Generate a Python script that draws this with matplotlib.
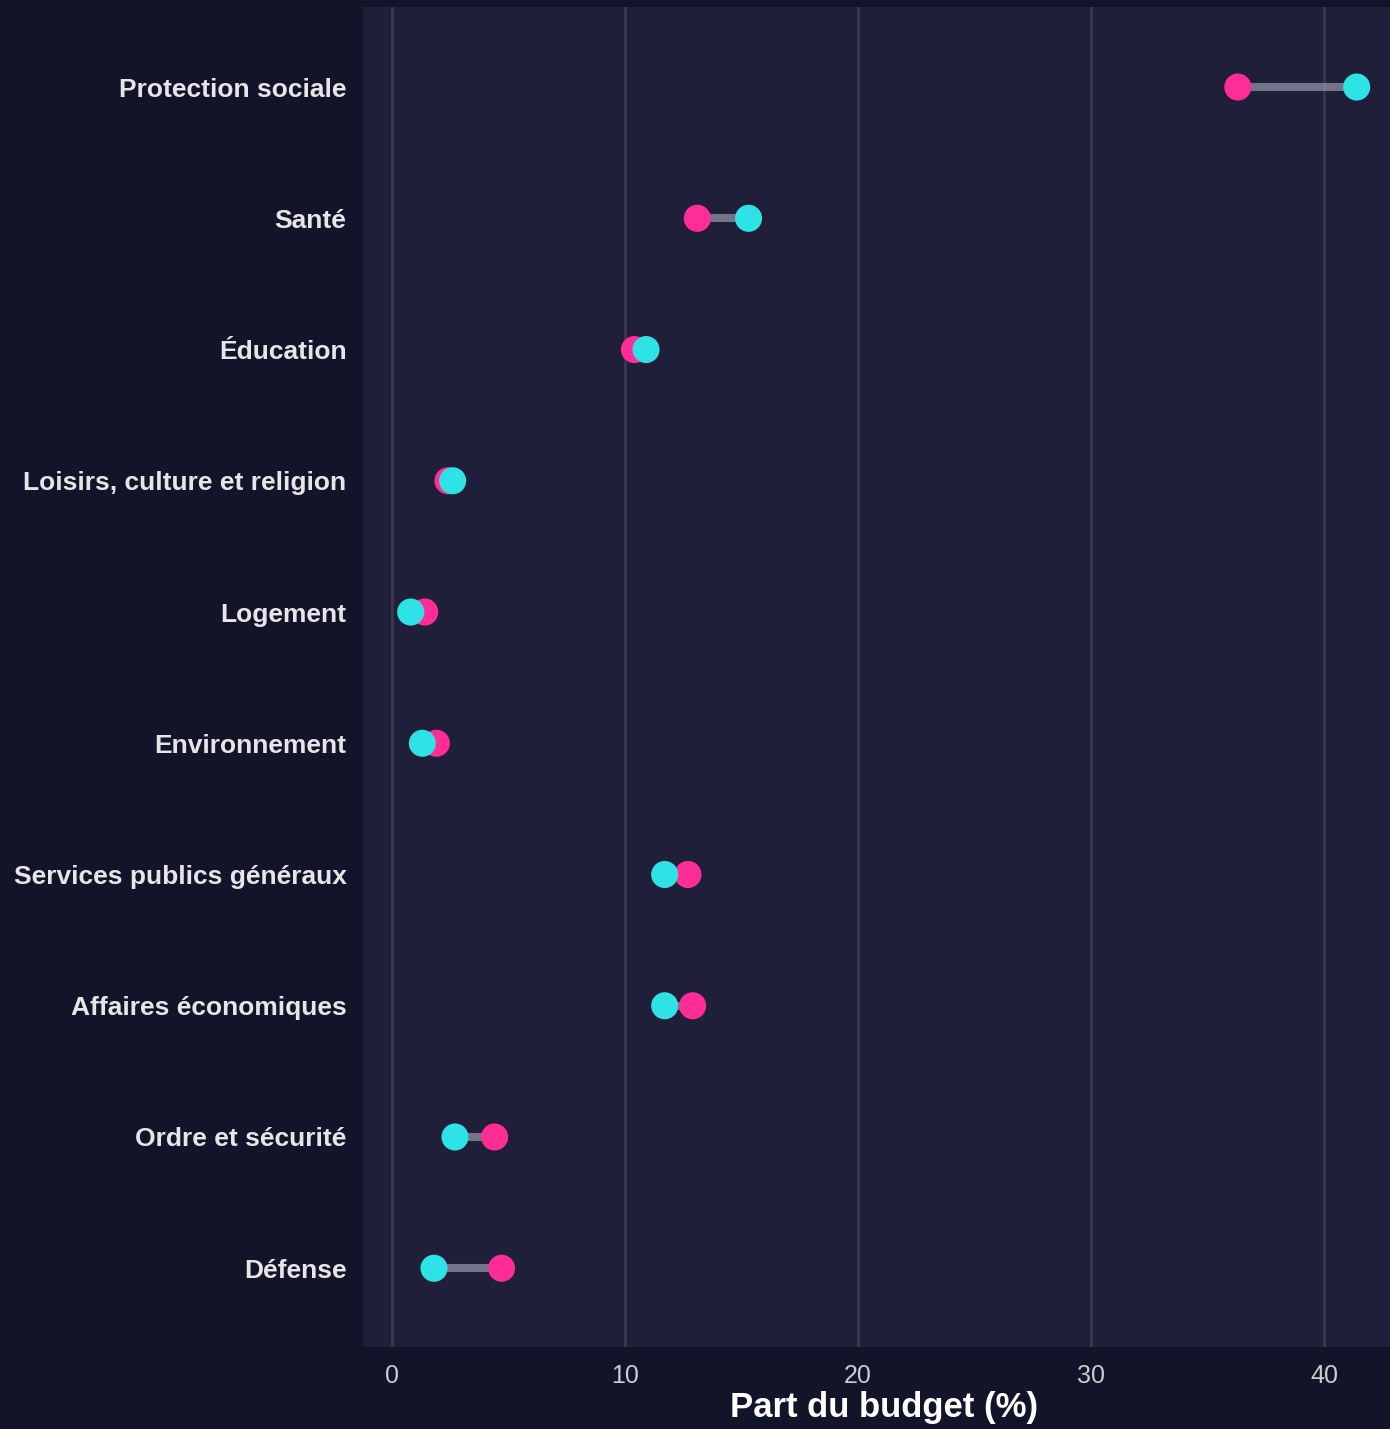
import matplotlib
matplotlib.use("Agg")
import matplotlib.pyplot as plt

plt.rcParams['font.family'] = ['Liberation Sans', 'DejaVu Sans']

categories = ["Protection sociale", "Santé", "Éducation", "Loisirs, culture et religion",
              "Logement", "Environnement", "Services publics généraux",
              "Affaires économiques", "Ordre et sécurité", "Défense"]
pink_vals = [36.3, 13.1, 10.4, 2.4, 1.4, 1.9, 12.7, 12.9, 4.4, 4.7]
cyan_vals = [41.4, 15.3, 10.9, 2.6, 0.8, 1.3, 11.7, 11.7, 2.7, 1.8]
xticks = [0, 10, 20, 30, 40]

fig_bg = '#13142a'
ax_bg = '#1f1f3a'
pink = '#ff2d95'
cyan = '#2ee3e6'

fig = plt.figure(figsize=(13.9, 14.29), dpi=100, facecolor=fig_bg)
ax = fig.add_axes([0.2612, 0.0574, 0.7388, 0.9377])
ax.set_facecolor(ax_bg)

ypos = list(range(len(categories)))[::-1]

# connecting segments, then the two dot series (cyan on top)
for y, p, c in zip(ypos, pink_vals, cyan_vals):
    ax.plot([p, c], [y, y], color='#8a8a9e', alpha=0.8, lw=5.8, solid_capstyle='butt', zorder=2)
ax.scatter(pink_vals, ypos, s=380, color=pink, zorder=3, edgecolors='none')
ax.scatter(cyan_vals, ypos, s=380, color=cyan, zorder=4, edgecolors='none')

ax.set_xlim(-1.245, 42.83)
ax.set_ylim(-0.6, 9.61)
ax.set_xticks(xticks)
ax.set_yticks(ypos)
ax.set_yticklabels(categories, fontsize=19, fontweight='bold', color='#e6e6e6')
ax.tick_params(axis='x', labelsize=18, labelcolor='#cccccc', length=0, pad=12)
ax.tick_params(axis='y', length=0, pad=12)
ax.grid(axis='x', color='#36364f', lw=2.2, zorder=0)
ax.grid(axis='y', visible=False)
ax.set_axisbelow(True)
for s in ax.spines.values():
    s.set_visible(False)

ax.set_xlabel("Part du budget (%)", fontsize=25, fontweight='bold', color='white')
ax.xaxis.set_label_coords(0.507, -0.033)

fig.savefig("out.png", dpi=100, facecolor=fig_bg)
